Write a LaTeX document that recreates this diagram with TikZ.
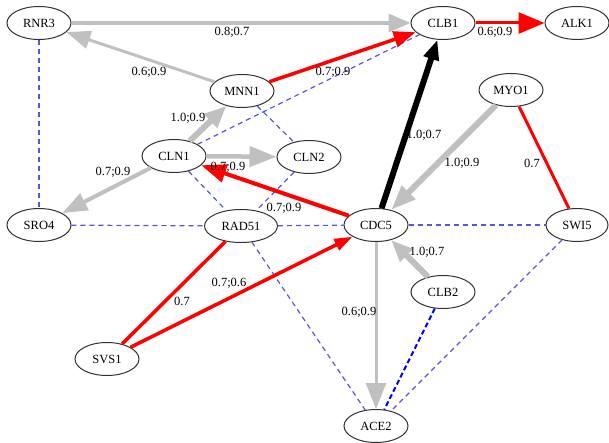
\documentclass[tikz,border=0pt]{standalone}
\usepackage{fontspec}
\setmainfont{Liberation Serif}
\usetikzlibrary{shapes.geometric,arrows.meta}
\definecolor{eg}{RGB}{192,192,192}
\definecolor{dblue}{RGB}{85,85,225}
\definecolor{nodeline}{RGB}{50,50,50}
\begin{document}
\begin{tikzpicture}[x=1pt,y=-1pt,
  gn/.style={ellipse,draw=nodeline,line width=1pt,minimum width=64pt,minimum height=33pt,inner sep=0pt,font=\fontsize{12.5}{14}\selectfont},
  lbl/.style={inner sep=0pt,font=\fontsize{12.5}{14}\selectfont},
  tip/.style 2 args={-{Triangle[length=#1pt,width=#2pt]}},
  grayedge/.style={draw=eg},
  rededge/.style={draw=red},
  dashedge/.style={draw=dblue,line width=1.2pt,dash pattern=on 5pt off 4pt},
]
\useasboundingbox (0,0) rectangle (609,443);
% nodes
\node[gn] (RNR3) at (39,23) {RNR3};
\node[gn] (CLB1) at (443,23) {CLB1};
\node[gn] (ALK1) at (577,23) {ALK1};
\node[gn] (MNN1) at (242,91) {MNN1};
\node[gn] (MYO1) at (511,90) {MYO1};
\node[gn] (CLN1) at (174,156) {CLN1};
\node[gn] (CLN2) at (309,157) {CLN2};
\node[gn] (SRO4) at (39,225) {SRO4};
\node[gn,minimum width=73pt] (RAD51) at (241,226) {RAD51};
\node[gn] (CDC5) at (376,225) {CDC5};
\node[gn,minimum width=62pt] (SWI5) at (577,225) {SWI5};
\node[gn] (CLB2) at (443,292) {CLB2};
\node[gn] (SVS1) at (107,359) {SVS1};
\node[gn] (ACE2) at (376,426) {ACE2};
% dashed undirected edges
\draw[dashedge] (RNR3) -- (SRO4);
\draw[dashedge] (SRO4) -- (RAD51);
\draw[dashedge] (RAD51) -- (CDC5);
\draw[dashedge] (CDC5) -- (SWI5);
\draw[dashedge] (CLN1) -- (CLB1);
\draw[dashedge] (MNN1) -- (CLN2);
\draw[dashedge] (CLN1) -- (RAD51);
\draw[dashedge] (CLN2) -- (RAD51);
\draw[dashedge] (RAD51) -- (ACE2);
\draw[dashedge] (SWI5) -- (ACE2);
\draw[draw=blue,line width=2pt,dash pattern=on 5pt off 3pt] (CLB2) -- (ACE2);
% gray edges
\draw[grayedge,line width=3.5pt,tip={22}{18}] (RNR3) -- (CLB1);
\draw[grayedge,line width=3pt,tip={24}{18}] (MNN1) -- (RNR3);
\draw[grayedge,line width=6pt,tip={22}{18}] (CLN1) -- (MNN1);
\draw[grayedge,line width=4.5pt,tip={27}{20}] (CLN1) -- (CLN2);
\draw[grayedge,line width=4pt,tip={25}{18}] (CLN1) -- (SRO4);
\draw[grayedge,line width=6pt,tip={25}{18}] (MYO1) -- (CDC5);
\draw[grayedge,line width=6pt,tip={22}{17}] (CLB2) -- (CDC5);
\draw[grayedge,line width=3pt,tip={26}{20}] (CDC5) -- (ACE2);
% red edges
\draw[rededge,line width=3.5pt,tip={22}{16}] (MNN1) -- (CLB1);
\draw[rededge,line width=3pt,tip={26}{21}] (CLB1) -- (ALK1);
\draw[rededge,line width=4pt,tip={25}{18}] (CDC5) -- (CLN1);
\draw[rededge,line width=3pt] (MYO1) -- (SWI5);
\draw[rededge,line width=3.5pt] (SVS1) -- (RAD51);
\draw[rededge,line width=3.5pt,tip={18}{12}] (SVS1) -- (CDC5);
% black edge
\draw[draw=black,line width=6pt,tip={20}{15}] (CDC5) -- (CLB1);
% labels
\node[lbl] (l1) at (232,32) {0.8;0.7};
\node[lbl] (l2) at (149,72) {0.6;0.9};
\node[lbl] (l3) at (188,118) {1.0;0.9};
\node[lbl] (l4) at (333,72) {0.7;0.9};
\node[lbl] (l5) at (495,32) {0.6;0.9};
\node[lbl] (l6) at (424,135) {1.0;0.7};
\node[lbl] (l7) at (462,163) {1.0;0.9};
\node[lbl] (l8) at (532,163) {0.7};
\node[lbl] (l9) at (113,172) {0.7;0.9};
\node[lbl] (l10) at (228,167) {0.7;0.9};
\node[lbl] (l11) at (284,208) {0.7;0.9};
\node[lbl] (l12) at (427,252) {1.0;0.7};
\node[lbl] (l13) at (359,312) {0.6;0.9};
\node[lbl] (l14) at (229,283) {0.7;0.6};
\node[lbl] (l15) at (182,301) {0.7};
\end{tikzpicture}
\end{document}
